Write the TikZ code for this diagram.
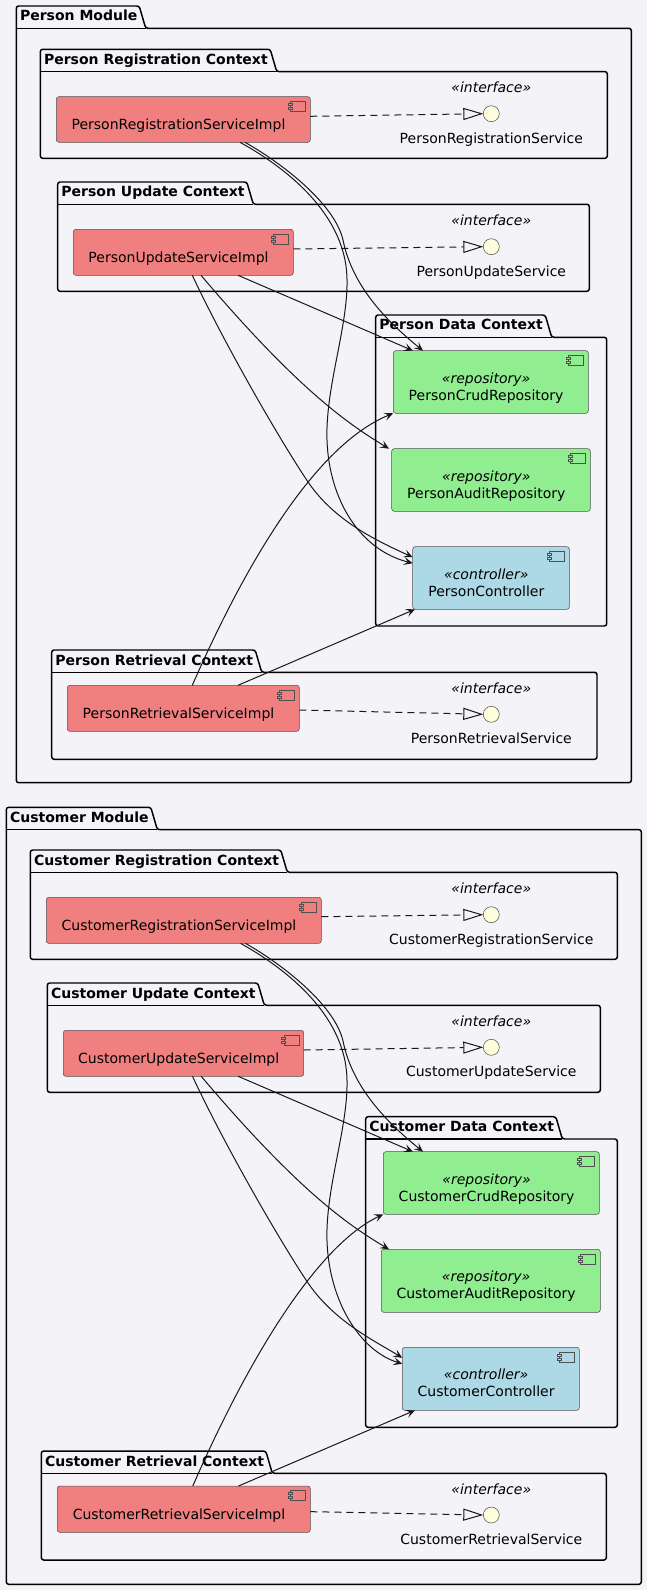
\documentclass[tikz,border=0pt]{standalone}
\usepackage{fontspec}
\setmainfont{DejaVu Sans}
\usetikzlibrary{arrows.meta,calc}
\definecolor{bg}{HTML}{F4F4F8}
\definecolor{svcred}{HTML}{F08080}
\definecolor{repogreen}{HTML}{90EE90}
\definecolor{ctrlblue}{HTML}{ADD8E6}
\definecolor{ifcyellow}{HTML}{FEFEDC}
\definecolor{edgecol}{HTML}{181818}
\definecolor{cborder}{HTML}{505050}
\tikzset{
 pkgline/.style={draw=black, line width=1.1pt, rounded corners=1.8pt},
 pkgtitle/.style={anchor=base west, inner sep=0pt, font=\fontsize{10.5pt}{12pt}\selectfont\bfseries},
 compbox/.style={draw=cborder, line width=0.4pt, rounded corners=1.9pt, inner sep=0pt, outer sep=0pt},
 compicon/.style={draw=cborder, line width=0.4pt},
 txt/.style={inner sep=0pt, font=\fontsize{10.5pt}{12pt}\selectfont},
 stereo/.style={inner sep=0pt, font=\fontsize{10.5pt}{12pt}\selectfont\itshape},
 ifc/.style={circle, draw=cborder, line width=0.4pt, fill=ifcyellow, minimum size=12pt, inner sep=0pt, outer sep=0pt},
 dep/.style={draw=edgecol, line width=0.75pt, -{Stealth[length=6.75pt,width=6pt,inset=3pt]}},
 real/.style={draw=edgecol, line width=0.75pt, dash pattern=on 5.25pt off 3.75pt, -{Triangle[open,length=15pt,width=9pt]}},
}
% package: name, x0, tabTop, tabRight, x1, bottom, title
\newcommand\pkg[7]{%
 \draw[pkgline] (#4,#3+22.3) -- (#5,#3+22.3) -- (#5,#6) -- (#2,#6) -- (#2,#3) -- (#4-6.5,#3) -- cycle;
 \draw[pkgline] (#2,#3+22.3) -- (#4,#3+22.3);
 \node[pkgtitle] (#1) at (#2+3.5,#3+15) {#7};
}
% component: name, x0, y0, x1, y1, fill
\newcommand\comp[6]{%
 \node[compbox, fill=#6, minimum width={(#4-#2)*0.75pt}, minimum height={(#5-#3)*0.75pt}] (#1) at ({(#2+#4)/2},{(#3+#5)/2}) {};
 \draw[compicon, fill=#6] (#4-19.6,#3+4.5) rectangle (#4-4.6,#3+14.5);
 \draw[compicon, fill=#6] (#4-22,#3+6.5) rectangle (#4-18,#3+8.5);
 \draw[compicon, fill=#6] (#4-22,#3+10.5) rectangle (#4-18,#3+12.5);
}
\newcommand\ctext[3]{\node[txt, anchor=base] (#1) at ($(#2.north)+(-4.8,33.3)$) {#3};}
\newcommand\rtext[4]{%
 \node[stereo, anchor=base] (#1S) at ($(#2.north)+(-4.7,32.6)$) {#3};
 \node[txt, anchor=base] (#1N) at ($(#2.north)+(-4.7,49.6)$) {#4};
}
\newcommand\iface[4]{%
 \node[ifc] (#1) at (#2,#3) {};
 \node[stereo, anchor=base] (#1S) at (#2,#3-21) {«interface»};
 \node[txt, anchor=base] (#1L) at (#2,#3+29.5) {#4};
}
% edges of one module: prefix, dy
\newcommand\modedges[2]{%
 \draw[dep] ($(#1Upd.south)+(54.7,0)$) -- (413,0 |- #1Crud.north);
 \draw[dep] ($(#1Upd.south)+(17.7,0)$) .. controls (300,{392+#2}) and (350,{425+#2}) .. (389,0 |- #1Audit.north);
 \draw[dep] ($(#1Upd.south)+(9,0)$) .. controls (225,{345+#2}) and (280,{440+#2}) .. (306.7,{480+#2}) .. controls (333,{520+#2}) and (375,{540+#2}) .. ($(#1Ctrl.north west)+(0,10.5)$);
 \draw[dep] ($(#1Reg.south)+(61.7,0)$) .. controls (285,{165+#2}) and (335,{205+#2}) .. (343,{240+#2}) .. controls (352,{285+#2}) and (385,{320+#2}) .. (423,0 |- #1Crud.north);
 \draw[dep] ($(#1Reg.south)+(56.7,0)$) .. controls (290,{170+#2}) and (335,{210+#2}) .. (345,{260+#2}) .. controls (355,{310+#2}) and (325,{380+#2}) .. (327,{440+#2}) .. controls (329,{500+#2}) and (360,{550+#2}) .. ($(#1Ctrl.north west)+(0,16.5)$);
 \draw[dep] ($(#1Ret.north)+(9,0)$) .. controls (245,{565+#2}) and (315,{445+#2}) .. (#1Crud.south west);
 \draw[dep] ($(#1Ret.north)+(54.7,0)$) -- (415,0 |- #1Ctrl.south);
}
\begin{document}
\begin{tikzpicture}[x=0.75pt, y=-0.75pt]
\fill[bg] (0,0) rectangle (647,1590);
\useasboundingbox (0,0) rectangle (647,1590);

% ---------- Person Module ----------
\pkg{pModT}{16.3}{6}{145.7}{631.3}{782.7}{Person Module}
\pkg{pRegCtxT}{40.3}{49.3}{276.7}{607.3}{158.3}{Person Registration Context}
\pkg{pUpdCtxT}{57.7}{182}{253.3}{589.3}{291.3}{Person Update Context}
\pkg{pDataCtxT}{375.7}{315}{551.7}{606.7}{626}{Person Data Context}
\pkg{pRetCtxT}{51.7}{650}{261.7}{597}{759.3}{Person Retrieval Context}

\comp{pReg}{56.3}{96.7}{310.3}{142.3}{svcred}
\comp{pUpd}{73.3}{229.3}{293.3}{275.3}{svcred}
\comp{pRet}{67.3}{685.3}{299.3}{731.3}{svcred}
\comp{pCrud}{393.3}{350.7}{588.3}{413.3}{repogreen}
\comp{pAudit}{391.7}{448.7}{590.3}{511.3}{repogreen}
\comp{pCtrl}{412.7}{546.7}{569.3}{609.3}{ctrlblue}

\ctext{pRegT}{pReg}{PersonRegistrationServiceImpl}
\ctext{pUpdT}{pUpd}{PersonUpdateServiceImpl}
\ctext{pRetT}{pRet}{PersonRetrievalServiceImpl}
\rtext{pCrudT}{pCrud}{«repository»}{PersonCrudRepository}
\rtext{pAuditT}{pAudit}{«repository»}{PersonAuditRepository}
\rtext{pCtrlT}{pCtrl}{«controller»}{PersonController}

\iface{pRegI}{491.3}{113.7}{PersonRegistrationService}
\iface{pUpdI}{491.3}{246.7}{PersonUpdateService}
\iface{pRetI}{491.3}{714.3}{PersonRetrievalService}

\draw[real] ($(pReg.east)+(0,-3.2)$) -- (pRegI.west);
\draw[real] ($(pUpd.east)+(0,-3.3)$) -- (pUpdI.west);
\draw[real] ($(pRet.east)+(0,1.7)$) -- (pRetI.west);

\modedges{p}{0}

% ---------- Customer Module ----------
\pkg{cModT}{6.3}{807.3}{157.3}{641.3}{1584.3}{Customer Module}
\pkg{cRegCtxT}{30.3}{850}{287.3}{617.3}{959.3}{Customer Registration Context}
\pkg{cUpdCtxT}{47.3}{983}{264.3}{600.3}{1092.3}{Customer Update Context}
\pkg{cDataCtxT}{365.7}{1116.7}{562.3}{617.3}{1427.3}{Customer Data Context}
\pkg{cRetCtxT}{41.3}{1451}{272.3}{606.3}{1560}{Customer Retrieval Context}

\comp{cReg}{46.3}{897.3}{321.3}{943.3}{svcred}
\comp{cUpd}{63.3}{1030.3}{303.7}{1076.3}{svcred}
\comp{cRet}{57.3}{1486}{310.3}{1532.3}{svcred}
\comp{cCrud}{383.3}{1151.7}{599.3}{1214.3}{repogreen}
\comp{cAudit}{381.3}{1249.3}{600.3}{1312.3}{repogreen}
\comp{cCtrl}{402.3}{1347.3}{579.3}{1410.3}{ctrlblue}

\ctext{cRegT}{cReg}{CustomerRegistrationServiceImpl}
\ctext{cUpdT}{cUpd}{CustomerUpdateServiceImpl}
\ctext{cRetT}{cRet}{CustomerRetrievalServiceImpl}
\rtext{cCrudT}{cCrud}{«repository»}{CustomerCrudRepository}
\rtext{cAuditT}{cAudit}{«repository»}{CustomerAuditRepository}
\rtext{cCtrlT}{cCtrl}{«controller»}{CustomerController}

\iface{cRegI}{491.3}{914.7}{CustomerRegistrationService}
\iface{cUpdI}{491.3}{1047.3}{CustomerUpdateService}
\iface{cRetI}{491.3}{1515}{CustomerRetrievalService}

\draw[real] ($(cReg.east)+(0,-3.6)$) -- (cRegI.west);
\draw[real] ($(cUpd.east)+(0,-3.3)$) -- (cUpdI.west);
\draw[real] ($(cRet.east)+(0,2.5)$) -- (cRetI.west);

\modedges{c}{801}
\end{tikzpicture}
\end{document}
